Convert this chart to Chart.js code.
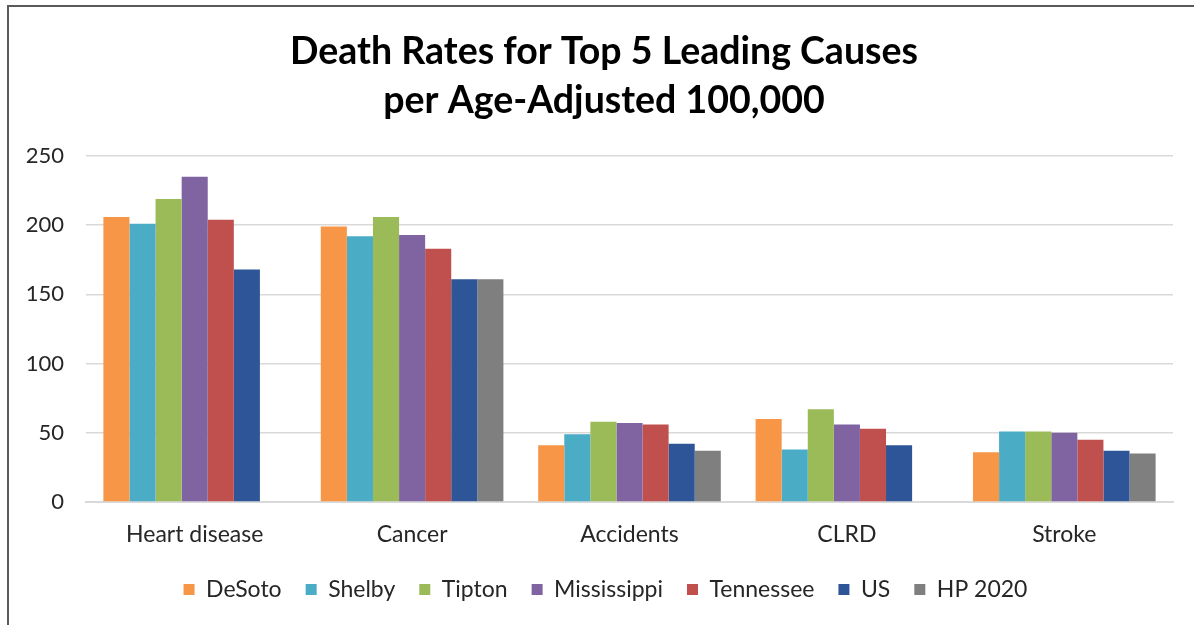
<!DOCTYPE html>
<html>
<head>
<meta charset="utf-8">
<script src="https://cdn.jsdelivr.net/npm/chart.js@4.4.1/dist/chart.umd.min.js"></script>
<style>
  html, body { margin: 0; padding: 0; background: #fff; }
  #wrap { position: relative; width: 1194px; height: 625px; overflow: hidden; }
  #frame { position: absolute; left: 7px; top: 5px; right: 0; bottom: -10px;
           border-left: 2px solid #5a5a5a; border-top: 2px solid #5a5a5a; }
  canvas { position: absolute; left: 0; top: 0; }
</style>
</head>
<body>
<div id="wrap">
  <div id="frame"></div>
  <canvas id="chart" width="1194" height="625"></canvas>
</div>
<script>
// Leading causes of death, age-adjusted rate per 100,000
const causes = ['Heart disease', 'Cancer', 'Accidents', 'CLRD', 'Stroke'];

const desoto      = [206, 199, 41, 60, 36];
const shelby      = [201, 192, 49, 38, 51];
const tipton      = [219, 206, 58, 67, 51];
const mississippi = [235, 193, 57, 56, 50];
const tennessee   = [204, 183, 56, 53, 45];
const us          = [168, 161, 42, 41, 37];
const hp2020      = [null, 161, 37, null, 35];

const yTicks = [0, 50, 100, 150, 200, 250];

const titleLines = ['Death Rates for Top 5 Leading Causes', 'per Age-Adjusted 100,000'];

const seriesNames  = ['DeSoto', 'Shelby', 'Tipton', 'Mississippi', 'Tennessee', 'US', 'HP 2020'];
const seriesValues = [desoto, shelby, tipton, mississippi, tennessee, us, hp2020];
const seriesColors = ['#f79646', '#4bacc6', '#9bbb59', '#8064a2', '#c0504d', '#2e5597', '#7f7f7f'];

const FONT = "Lato, 'Open Sans', 'Liberation Sans', sans-serif";

// Two-line heading centred over the page
const headingPlugin = {
  id: 'heading',
  afterDraw(chart) {
    const ctx = chart.ctx;
    ctx.save();
    ctx.fillStyle = '#000';
    ctx.font = "bold 37.5px " + FONT;
    ctx.textAlign = 'center';
    ctx.textBaseline = 'middle';
    ctx.fillText(titleLines[0], 604, 52);
    ctx.fillText(titleLines[1], 604, 101);
    ctx.restore();
  }
};

new Chart(document.getElementById('chart'), {
  type: 'bar',
  data: {
    labels: causes,
    datasets: seriesNames.map((name, i) => ({
      label: name,
      data: seriesValues[i],
      backgroundColor: seriesColors[i],
      borderWidth: 0,
      barPercentage: 1.0,
      categoryPercentage: 0.84
    }))
  },
  options: {
    responsive: false,
    animation: false,
    devicePixelRatio: 1,
    layout: { padding: { top: 156, left: 26, right: 9, bottom: 14 } },
    plugins: {
      title: { display: false },
      legend: {
        position: 'bottom',
        labels: {
          color: '#262626',
          font: { family: FONT, size: 23 },
          boxWidth: 11,
          boxHeight: 11,
          padding: 24
        }
      },
      tooltip: { enabled: false }
    },
    scales: {
      x: {
        grid: { display: false, drawTicks: false },
        border: { display: true, color: '#d9d9d9', width: 2 },
        ticks: { color: '#262626', font: { family: FONT, size: 23 }, padding: 19 },
        afterFit: (axis) => { axis.height = 52; }
      },
      y: {
        min: 0,
        max: 250,
        afterBuildTicks: (axis) => { axis.ticks = yTicks.map(v => ({ value: v })); },
        afterFit: (axis) => { axis.width = 60; },
        grid: { color: '#d9d9d9', lineWidth: 1.5, drawTicks: false },
        border: { display: false },
        ticks: { color: '#262626', font: { family: FONT, size: 22 }, padding: 22 }
      },
      yRight: {
        position: 'right',
        min: 0,
        max: 250,
        afterFit: (axis) => { axis.width = 12; },
        grid: { display: false, drawTicks: false },
        border: { display: false },
        ticks: { display: false }
      }
    }
  },
  plugins: [headingPlugin]
});
</script>
</body>
</html>
